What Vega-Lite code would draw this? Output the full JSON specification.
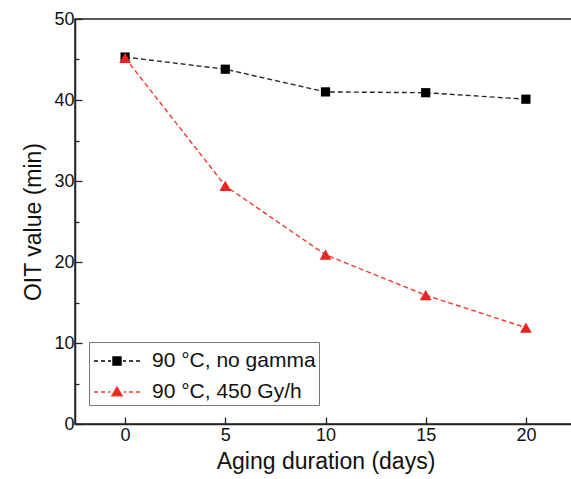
{
  "$schema": "https://vega.github.io/schema/vega-lite/v6.json",
  "width": 501,
  "height": 405,
  "autosize": "none",
  "padding": {"left": 75, "top": 19, "right": 0, "bottom": 55},
  "background": "white",
  "config": {
    "view": {"stroke": "#222", "strokeWidth": 1.5},
    "font": "Liberation Sans",
    "axis": {
      "grid": false,
      "domainColor": "#222",
      "domainWidth": 1.5,
      "tickColor": "#222",
      "tickWidth": 1.3,
      "labelFont": "Liberation Sans",
      "labelFontSize": 18,
      "labelColor": "#111",
      "titleFont": "Liberation Sans",
      "titleFontSize": 23,
      "titleFontWeight": "normal",
      "titleColor": "#111"
    },
    "legend": {
      "orient": "none",
      "legendX": 14,
      "legendY": 323,
      "padding": 3,
      "rowPadding": 5,
      "symbolSize": 900,
      "symbolOffset": 9,
      "symbolOpacity": 1,
      "symbolStrokeWidth": 1.3,
      "labelOffset": 19,
      "labelLimit": 400,
      "labelFont": "Liberation Sans",
      "labelFontSize": 21,
      "labelColor": "#111",
      "strokeColor": "#777",
      "fillColor": "white",
      "cornerRadius": 0
    }
  },
  "data": {
    "values": [
      {"series": "90 °C, no gamma", "days": 0, "oit": 45.3},
      {"series": "90 °C, no gamma", "days": 5, "oit": 43.8},
      {"series": "90 °C, no gamma", "days": 10, "oit": 41.0},
      {"series": "90 °C, no gamma", "days": 15, "oit": 40.9},
      {"series": "90 °C, no gamma", "days": 20, "oit": 40.1},
      {"series": "90 °C, 450 Gy/h", "days": 0, "oit": 45.2},
      {"series": "90 °C, 450 Gy/h", "days": 5, "oit": 29.4},
      {"series": "90 °C, 450 Gy/h", "days": 10, "oit": 20.9},
      {"series": "90 °C, 450 Gy/h", "days": 15, "oit": 15.9},
      {"series": "90 °C, 450 Gy/h", "days": 20, "oit": 11.9}
    ]
  },
  "encoding": {
    "x": {
      "field": "days",
      "type": "quantitative",
      "scale": {"domain": [-2.5, 22.5], "nice": false, "zero": false},
      "axis": {
        "title": "Aging duration (days)",
        "values": [0, 5, 10, 15, 20],
        "tickSize": -7,
        "labelPadding": 9,
        "titlePadding": 6
      }
    },
    "y": {
      "field": "oit",
      "type": "quantitative",
      "scale": {"domain": [0, 50], "nice": false},
      "axis": {
        "title": "OIT value (min)",
        "values": [0, 5, 10, 15, 20, 25, 30, 35, 40, 45, 50],
        "labelExpr": "datum.value % 10 === 0 ? datum.label : ''",
        "tickSize": {"condition": {"test": "datum.value % 10 === 0", "value": -7}, "value": -4},
        "labelPadding": 8,
        "titlePadding": 8
      }
    }
  },
  "layer": [
    {
      "mark": {"type": "line", "strokeDash": [5, 3], "strokeWidth": 1.4},
      "encoding": {
        "color": {"condition": {"test": "datum.series === '90 °C, 450 Gy/h'", "value": "#ee3b33"}, "value": "#2a2a2a"},
        "detail": {"field": "series"}
      }
    },
    {
      "mark": {"type": "point", "filled": true, "opacity": 1},
      "encoding": {
        "color": {"condition": {"test": "datum.series === '90 °C, 450 Gy/h'", "value": "#e8261f"}, "value": "#000000"},
        "shape": {"condition": {"test": "datum.series === '90 °C, 450 Gy/h'", "value": "triangle-up"}, "value": "square"},
        "size": {"condition": {"test": "datum.series === '90 °C, 450 Gy/h'", "value": 140}, "value": 85}
      }
    },
    {
      "mark": {"type": "point", "opacity": 0, "strokeWidth": 1.3},
      "encoding": {
        "fill": {
          "field": "series",
          "type": "nominal",
          "scale": {"domain": ["90 °C, no gamma", "90 °C, 450 Gy/h"], "range": ["#000000", "#e8261f"]},
          "legend": {"title": null}
        },
        "stroke": {
          "field": "series",
          "type": "nominal",
          "scale": {"domain": ["90 °C, no gamma", "90 °C, 450 Gy/h"], "range": ["#000000", "#ee3b33"]},
          "legend": {"title": null}
        },
        "shape": {
          "field": "series",
          "type": "nominal",
          "scale": {
            "domain": ["90 °C, no gamma", "90 °C, 450 Gy/h"],
            "range": [
              "M-1.53,0H-1.27M-1.07,0H-0.8M-0.6,0H-0.4M-0.27,-0.27H0.27V0.27H-0.27ZM0.4,0H0.6M0.8,0H1.07M1.27,0H1.53",
              "M-1.53,0H-1.27M-1.07,0H-0.8M-0.6,0H-0.45M0,-0.33L0.35,0.25H-0.35ZM0.45,0H0.6M0.8,0H1.07M1.27,0H1.53"
            ]
          },
          "legend": {"title": null}
        }
      }
    }
  ]
}
